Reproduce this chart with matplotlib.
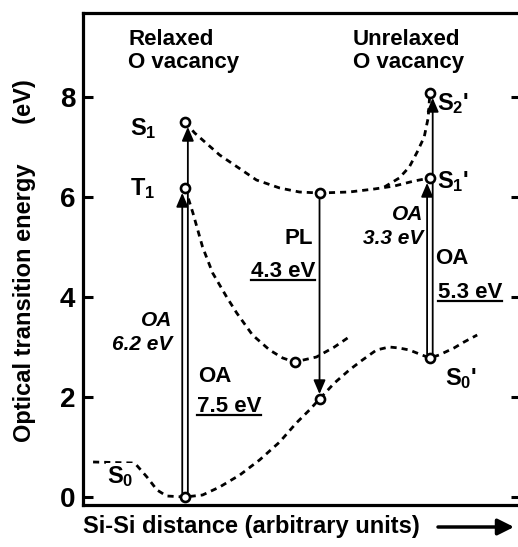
import matplotlib
matplotlib.use('Agg')
import matplotlib.pyplot as plt
from matplotlib.transforms import offset_copy

plt.rcParams['font.family'] = ['Liberation Sans', 'DejaVu Sans']
plt.rcParams['font.weight'] = 'bold'
plt.rcParams['mathtext.fontset'] = 'custom'
plt.rcParams['mathtext.rm'] = 'Liberation Sans:bold'
plt.rcParams['mathtext.it'] = 'Liberation Sans:bold:italic'
plt.rcParams['mathtext.bf'] = 'Liberation Sans:bold'

# superficies de energia (x em unidades arbitrarias, energia em eV)
s0_x = [0.23, 1.18, 1.46, 1.69, 1.91, 2.33, 2.73, 3.12, 3.58, 4.03, 4.49, 4.87, 5.17,
        5.40, 5.74, 6.08, 6.38, 6.70, 6.99, 7.22, 7.45, 7.68, 7.92, 8.13, 8.47, 8.70, 9.00]
s0_e = [0.70, 0.68, 0.40, 0.14, 0.02, 0.00, 0.04, 0.20, 0.44, 0.74, 1.10, 1.48, 1.74,
        1.96, 2.28, 2.54, 2.74, 2.94, 3.00, 2.98, 2.94, 2.86, 2.78, 2.84, 2.98, 3.10, 3.24]

t1_x = [2.33, 2.51, 2.73, 2.96, 3.28, 3.51, 3.87, 4.26, 4.56, 4.83, 5.33, 5.74, 6.04]
t1_e = [6.18, 5.68, 5.00, 4.48, 4.00, 3.68, 3.24, 2.94, 2.78, 2.70, 2.80, 3.00, 3.18]

s1_x = [2.33, 2.55, 3.12, 3.96, 4.49, 4.94, 5.40, 6.08, 6.65, 7.11, 7.56, 7.92]
s1_e = [7.50, 7.28, 6.84, 6.34, 6.18, 6.10, 6.08, 6.10, 6.16, 6.22, 6.32, 6.38]

s2_x = [6.88, 7.22, 7.45, 7.63, 7.79, 7.88, 7.92]
s2_e = [6.20, 6.38, 6.60, 6.90, 7.20, 7.58, 8.08]

# estados marcados com circulos
pts_x = [2.33, 2.33, 2.33, 5.40, 5.40, 4.83, 7.92, 7.92, 7.92]
pts_e = [7.50, 6.18, 0.00, 6.08, 1.96, 2.70, 8.08, 6.38, 2.78]

# transicoes: (x, energia inicial, energia final, lado)
transicoes = [
    (2.33, 0.00, 6.18, -1),
    (2.33, 0.00, 7.50, 1),
    (5.40, 6.08, 1.96, 0),
    (7.92, 2.78, 6.38, -1),
    (7.92, 2.78, 8.08, 1),
]

fig = plt.figure(figsize=(5.18, 5.47), dpi=100)
ax = fig.add_axes([83/518, 42/547, 438/518, 492/547])
ax.set_xlim(0, 10)
ax.set_ylim(-0.16, 9.68)

tracejado = dict(color='k', lw=2.0, ls=(0, (2.2, 1.8)), zorder=2)
ax.plot(s0_x, s0_e, **tracejado)
ax.plot(t1_x, t1_e, **tracejado)
ax.plot(s1_x, s1_e, **tracejado)
ax.plot(s2_x, s2_e, **tracejado)

for x, e0, e1, lado in transicoes:
    tr = offset_copy(ax.transData, fig=fig, x=2.8*lado, y=0, units='dots')
    ax.annotate('', xy=(x, e1), xytext=(x, e0), xycoords=tr, textcoords=tr,
                arrowprops=dict(arrowstyle='-|>,head_length=0.7,head_width=0.3',
                                color='k', lw=1.3, mutation_scale=12,
                                shrinkA=3, shrinkB=3.5), zorder=3)

ax.plot(pts_x, pts_e, 'o', ms=6.5, mfc='white', mec='k', mew=1.9, zorder=5)

# rotulos
fs = 16
ax.text(1.03, 9.04, 'Relaxed', fontsize=fs, va='baseline')
ax.text(1.03, 8.58, 'O vacancy', fontsize=fs, va='baseline')
ax.text(6.16, 9.04, 'Unrelaxed', fontsize=fs, va='baseline')
ax.text(6.16, 8.58, 'O vacancy', fontsize=fs, va='baseline')

ax.text(1.07, 7.24, 'S$_1$', fontsize=17, va='baseline')
ax.text(1.07, 6.04, 'T$_1$', fontsize=17, va='baseline')
ax.text(0.55, 0.28, 'S$_0$', fontsize=17, va='baseline',
        bbox=dict(fc='white', ec='none', pad=1), zorder=4)
ax.text(8.08, 7.74, "S$_2$'", fontsize=17, va='baseline')
ax.text(8.08, 6.18, "S$_1$'", fontsize=17, va='baseline')
ax.text(8.26, 2.24, "S$_0$'", fontsize=17, va='baseline')

ax.text(2.03, 3.54, 'OA', fontsize=15, style='italic', ha='right', va='center')
ax.text(2.03, 3.04, '6.2 eV', fontsize=15, style='italic', ha='right', va='center')
ax.text(7.76, 5.64, 'OA', fontsize=15, style='italic', ha='right', va='center')
ax.text(7.76, 5.16, '3.3 eV', fontsize=15, style='italic', ha='right', va='center')

ax.text(2.63, 2.40, 'OA', fontsize=fs, va='center')
ax.text(5.25, 5.18, 'PL', fontsize=fs, ha='right', va='center')
ax.text(8.04, 4.78, 'OA', fontsize=fs, va='center')

sublinhados = [
    ax.text(2.60, 1.70, '7.5 eV', fontsize=fs, va='baseline'),
    ax.text(5.30, 4.40, '4.3 eV', fontsize=fs, ha='right', va='baseline'),
    ax.text(8.10, 3.98, '5.3 eV', fontsize=fs, va='baseline'),
]

ax.set_xticks([])
ax.set_yticks([0, 2, 4, 6, 8])
ax.tick_params(axis='y', direction='in', length=7, width=2.2, labelsize=20,
               pad=5.5, left=True, right=True)
for sp in ax.spines.values():
    sp.set_linewidth(2.3)

fig.text(25/518, 1 - 261/547, 'Optical transition energy      (eV)', fontsize=17,
         rotation=90, ha='center', va='center')
fig.text(83/518, 1 - 527/547, 'Si-Si distance (arbitrary units)', fontsize=17,
         ha='left', va='center')
ax.annotate('', xy=(514/518, 1 - 527/547), xytext=(438/518, 1 - 527/547),
            xycoords='figure fraction', annotation_clip=False,
            arrowprops=dict(arrowstyle='-|>,head_length=0.7,head_width=0.35',
                            color='k', lw=2.5, mutation_scale=14, shrinkA=0, shrinkB=0))

# sublinhar os valores de energia
fig.canvas.draw()
inv = fig.transFigure.inverted()
for t in sublinhados:
    bb = t.get_window_extent()
    y = ax.transData.transform(t.get_position())[1] - 3
    (x0, y0), (x1, _) = inv.transform([(bb.x0, y), (bb.x1, y)])
    fig.add_artist(plt.Line2D([x0, x1], [y0, y0], color='k', lw=1.6))

fig.savefig('out.png', dpi=100)
plt.close(fig)
